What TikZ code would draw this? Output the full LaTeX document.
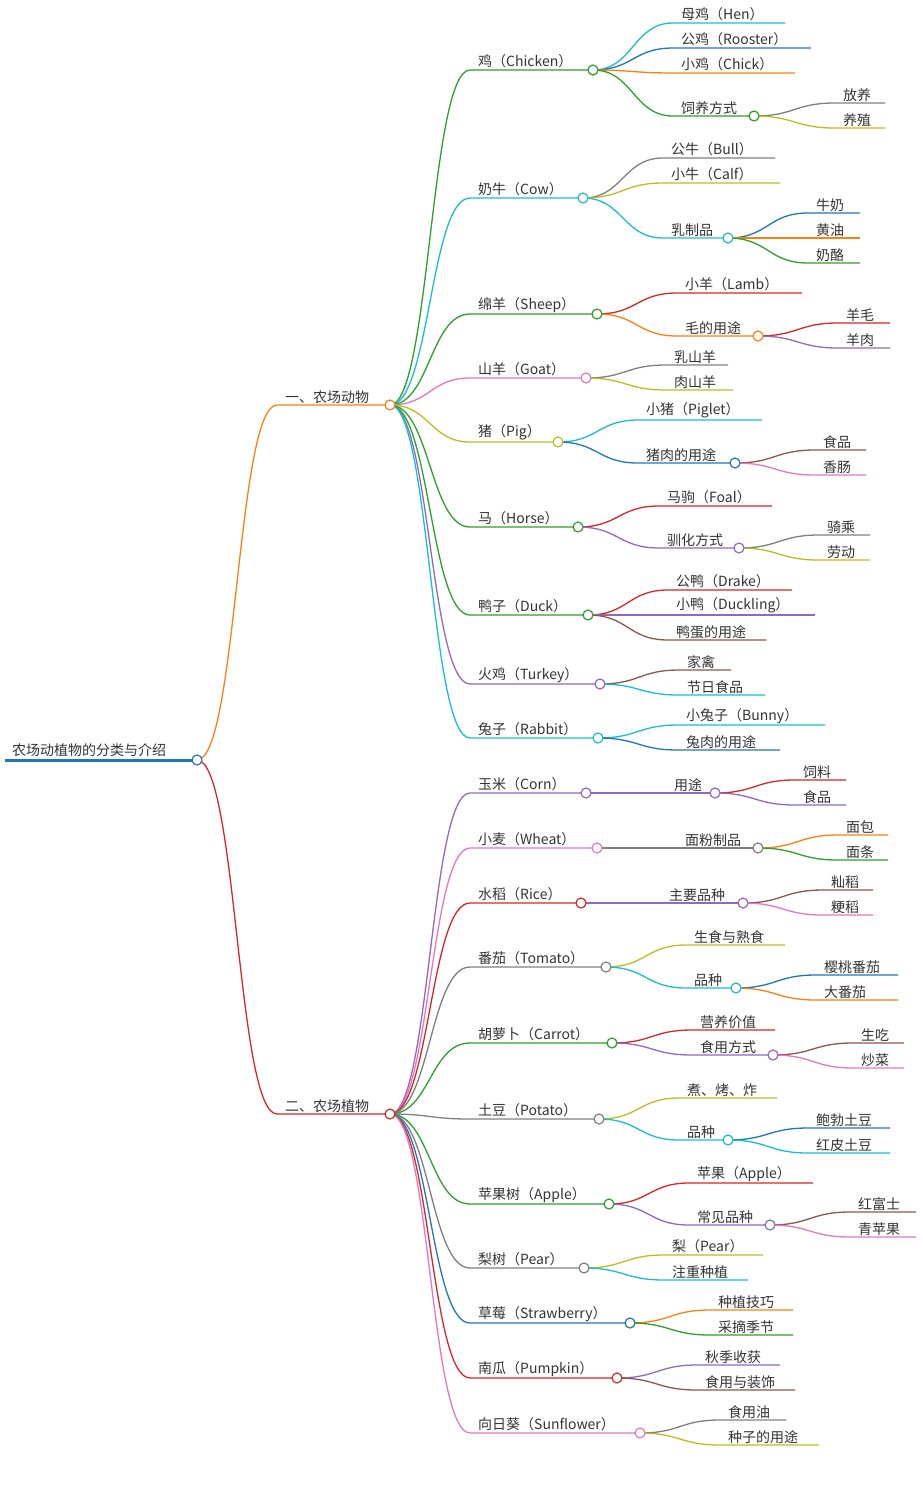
\documentclass[tikz,border=0pt]{standalone}
\usepackage{fontspec}
\setmainfont{Noto Sans CJK SC}
\usetikzlibrary{calc}
\pgfdeclarelayer{fg}
\pgfsetlayers{main,fg}
\definecolor{c1}{HTML}{1F77B4}\definecolor{c2}{HTML}{FF7F0E}\definecolor{c3}{HTML}{2CA02C}
\definecolor{c4}{HTML}{D62728}\definecolor{c5}{HTML}{9467BD}\definecolor{c6}{HTML}{8C564B}
\definecolor{c7}{HTML}{E377C2}\definecolor{c8}{HTML}{7F7F7F}\definecolor{c9}{HTML}{BCBD22}
\definecolor{c10}{HTML}{17BECF}\definecolor{txt}{HTML}{333333}
\tikzset{lbl/.style={anchor=south west,inner xsep=0pt,inner ysep=1.5pt,text=txt,font=\fontsize{14}{16}\selectfont},
 edge/.style={line width=1.3pt},
 dotc/.style={circle,fill=white,line width=1.2pt,minimum size=10pt,inner sep=0pt}}
\newcommand\br[7]{%
 \coordinate (#1-s) at (#3,#5); \coordinate (#1) at (#4,#5);
 \coordinate (#1-m) at ($(#2)!.5!(#1-s)$);
 \draw[edge,#6] (#2) .. controls (#1-m |- #2) and (#1-m |- #1-s) .. (#1-s) -- (#1);
 \node[lbl] (#1-t) at ($(#1-s)+(8,0)$) {#7};}
\newcommand\brc[7]{\br{#1}{#2}{#3}{#4}{#5}{#6}{#7}%
 \begin{pgfonlayer}{fg}\node[dotc,draw=#6] (#1-o) at (#1) {};\end{pgfonlayer}}
\begin{document}
\begin{tikzpicture}[x=1pt,y=-1pt]
\useasboundingbox (0,0) rectangle (923,1489);
\coordinate (r-s) at (5,760); \coordinate (r) at (197,760);
\draw[c1,line width=3pt] (r-s) -- (r);
\node[lbl] (r-t) at (12,758) {农场动植物的分类与介绍};
\begin{pgfonlayer}{fg}\node[dotc,draw=c1] (r-o) at (r) {};\end{pgfonlayer}
\brc{A}{r}{277}{390}{405}{c2}{一、农场动物}
\brc{P}{r}{277}{390}{1114}{c4}{二、农场植物}
% animals
\brc{a1}{A}{470}{593}{70}{c3}{鸡（Chicken）}
\br{a11}{a1}{673}{785}{23}{c10}{母鸡（Hen）}
\br{a12}{a1}{673}{811}{48}{c1}{公鸡（Rooster）}
\br{a13}{a1}{673}{795}{73}{c2}{小鸡（Chick）}
\brc{a14}{a1}{673}{754}{116}{c3}{饲养方式}
\br{a141}{a14}{835}{885}{103}{c8}{放养}
\br{a142}{a14}{835}{885}{128}{c9}{养殖}
\brc{a2}{A}{470}{583}{198}{c10}{奶牛（Cow）}
\br{a21}{a2}{663}{775}{158}{c8}{公牛（Bull）}
\br{a22}{a2}{663}{780}{183}{c9}{小牛（Calf）}
\brc{a23}{a2}{663}{728}{238}{c10}{乳制品}
\br{a231}{a23}{808}{860}{213}{c1}{牛奶}
\br{a232}{a23}{808}{860}{238}{c2}{黄油}
\br{a233}{a23}{808}{860}{263}{c3}{奶酪}
\brc{a3}{A}{470}{597}{314}{c3}{绵羊（Sheep）}
\br{a31}{a3}{677}{802}{293}{c4}{小羊（Lamb）}
\brc{a32}{a3}{677}{758}{336}{c2}{毛的用途}
\br{a321}{a32}{838}{890}{323}{c4}{羊毛}
\br{a322}{a32}{838}{890}{348}{c5}{羊肉}
\brc{a4}{A}{470}{586}{378}{c7}{山羊（Goat）}
\br{a41}{a4}{666}{728}{365}{c8}{乳山羊}
\br{a42}{a4}{666}{733}{390}{c9}{肉山羊}
\brc{a5}{A}{470}{558}{442}{c9}{猪（Pig）}
\br{a51}{a5}{638}{762}{420}{c10}{小猪（Piglet）}
\brc{a52}{a5}{638}{735}{463}{c1}{猪肉的用途}
\br{a521}{a52}{815}{866}{450}{c6}{食品}
\br{a522}{a52}{815}{866}{475}{c7}{香肠}
\brc{a6}{A}{470}{578}{527}{c3}{马（Horse）}
\br{a61}{a6}{659}{772}{506}{c4}{马驹（Foal）}
\brc{a62}{a6}{659}{739}{548}{c5}{驯化方式}
\br{a621}{a62}{819}{870}{535}{c8}{骑乘}
\br{a622}{a62}{819}{870}{560}{c9}{劳动}
\brc{a7}{A}{470}{588}{615}{c3}{鸭子（Duck）}
\br{a71}{a7}{668}{792}{590}{c4}{公鸭（Drake）}
\br{a72}{a7}{668}{815}{615}{c5}{小鸭（Duckling）}
\br{a73}{a7}{668}{766}{640}{c6}{鸭蛋的用途}
\brc{a8}{A}{470}{600}{684}{c5}{火鸡（Turkey）}
\br{a81}{a8}{679}{731}{670}{c6}{家禽}
\br{a82}{a8}{679}{765}{695}{c10}{节日食品}
\brc{a9}{A}{470}{598}{738}{c10}{兔子（Rabbit）}
\br{a91}{a9}{678}{825}{725}{c10}{小兔子（Bunny）}
\br{a92}{a9}{678}{780}{750}{c1}{兔肉的用途}
% plants
\brc{p1}{P}{470}{586}{793}{c5}{玉米（Corn）}
\brc{p11}{p1}{666}{715}{793}{c5}{用途}
\br{p111}{p11}{795}{846}{780}{c4}{饲料}
\br{p112}{p11}{795}{846}{805}{c5}{食品}
\brc{p2}{P}{470}{597}{848}{c7}{小麦（Wheat）}
\brc{p21}{p2}{677}{758}{848}{c8}{面粉制品}
\br{p211}{p21}{838}{888}{835}{c2}{面包}
\br{p212}{p21}{838}{888}{860}{c3}{面条}
\brc{p3}{P}{470}{581}{903}{c4}{水稻（Rice）}
\brc{p31}{p3}{661}{743}{903}{c5}{主要品种}
\br{p311}{p31}{823}{873}{890}{c6}{籼稻}
\br{p312}{p31}{823}{873}{915}{c7}{粳稻}
\brc{p4}{P}{470}{606}{967}{c8}{番茄（Tomato）}
\br{p41}{p4}{686}{785}{945}{c9}{生食与熟食}
\brc{p42}{p4}{686}{736}{988}{c10}{品种}
\br{p421}{p42}{816}{898}{975}{c1}{樱桃番茄}
\br{p422}{p42}{816}{898}{1000}{c2}{大番茄}
\brc{p5}{P}{470}{612}{1043}{c3}{胡萝卜（Carrot）}
\br{p51}{p5}{692}{775}{1030}{c4}{营养价值}
\brc{p52}{p5}{692}{773}{1055}{c5}{食用方式}
\br{p521}{p52}{853}{904}{1043}{c6}{生吃}
\br{p522}{p52}{853}{904}{1068}{c7}{炒菜}
\brc{p6}{P}{470}{599}{1119}{c8}{土豆（Potato）}
\br{p61}{p6}{679}{777}{1098}{c9}{煮、烤、炸}
\brc{p62}{p6}{679}{728}{1140}{c10}{品种}
\br{p621}{p62}{808}{890}{1128}{c1}{鲍勃土豆}
\br{p622}{p62}{808}{890}{1153}{c10}{红皮土豆}
\brc{p7}{P}{470}{609}{1204}{c3}{苹果树（Apple）}
\br{p71}{p7}{689}{813}{1183}{c4}{苹果（Apple）}
\brc{p72}{p7}{689}{770}{1225}{c5}{常见品种}
\br{p721}{p72}{850}{916}{1212}{c6}{红富士}
\br{p722}{p72}{850}{916}{1237}{c7}{青苹果}
\brc{p8}{P}{470}{584}{1268}{c8}{梨树（Pear）}
\br{p81}{p8}{664}{763}{1255}{c9}{梨（Pear）}
\br{p82}{p8}{664}{748}{1280}{c10}{注重种植}
\brc{p9}{P}{470}{630}{1323}{c1}{草莓（Strawberry）}
\br{p91}{p9}{710}{793}{1310}{c2}{种植技巧}
\br{p92}{p9}{710}{793}{1335}{c3}{采摘季节}
\brc{q1}{P}{470}{617}{1378}{c4}{南瓜（Pumpkin）}
\br{q11}{q1}{697}{780}{1365}{c5}{秋季收获}
\br{q12}{q1}{697}{795}{1390}{c6}{食用与装饰}
\brc{q2}{P}{470}{640}{1433}{c7}{向日葵（Sunflower）}
\br{q21}{q2}{720}{786}{1420}{c8}{食用油}
\br{q22}{q2}{720}{819}{1445}{c9}{种子的用途}
\end{tikzpicture}
\end{document}
